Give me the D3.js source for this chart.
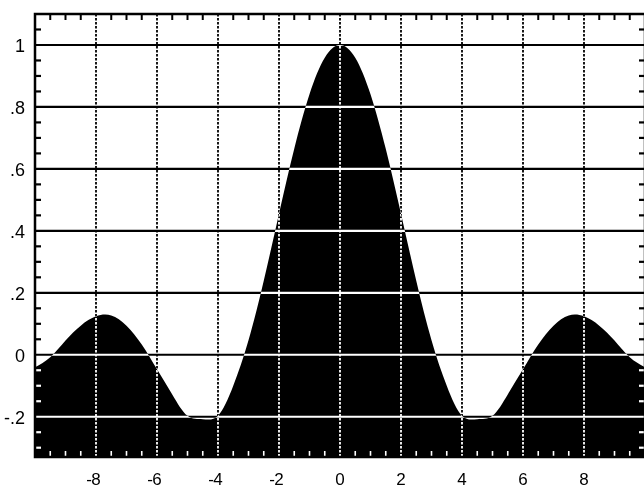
<!DOCTYPE html>
<html><head><meta charset="utf-8">
<script src="https://cdn.jsdelivr.net/npm/d3@7"></script>
<style>html,body{margin:0;padding:0;background:#fff;overflow:hidden}</style>
</head><body><svg id="c" width="644" height="490"></svg>
<script>
const xValues = [-10,-9.5,-9,-8.5,-8,-7.5,-7,-6.5,-6,-5.5,-5,-4.5,-4,-3.5,-3,-2.5,-2,-1.5,-1,-0.5,0,0.5,1,1.5,2,2.5,3,3.5,4,4.5,5,5.5,6,6.5,7,7.5,8,8.5,9,9.5,10];
const yValues = [-0.04,-0.008,0.046,0.094,0.124,0.127,0.094,0.033,-0.047,-0.128,-0.197,-0.208,-0.197,-0.100,0.047,0.239,0.455,0.665,0.841,0.959,1.0,0.959,0.841,0.665,0.455,0.239,0.047,-0.100,-0.197,-0.208,-0.197,-0.128,-0.047,0.033,0.094,0.127,0.124,0.094,0.046,-0.008,-0.04];
const xTickLabels = [-8,-6,-4,-2,0,2,4,6,8];
const yTickLabels = [-0.2,0,0.2,0.4,0.6,0.8,1];

const svg = d3.select("#c");
const x = d3.scaleLinear().domain([-10,10]).range([35,645]);
const y = d3.scaleLinear().domain([-0.33,1.1]).range([457,14]);
const data = xValues.map((v,i)=>({x:v,y:yValues[i]}));

const area = d3.area().x(d=>x(d.x)).y0(y(-0.33)).y1(d=>y(d.y)).curve(d3.curveNatural);
svg.append("path").datum(data).attr("d",area).attr("fill","#000");

// grid with XOR-like effect
const g = svg.append("g").style("mix-blend-mode","difference");
g.selectAll("line.h").data(yTickLabels).join("line")
  .attr("x1",35).attr("x2",645).attr("y1",d=>y(d)).attr("y2",d=>y(d))
  .attr("stroke","#fff").attr("stroke-width",2.2);
g.selectAll("line.v").data(xTickLabels).join("line")
  .attr("x1",d=>x(d)).attr("x2",d=>x(d)).attr("y1",14).attr("y2",457)
  .attr("stroke","#fff").attr("stroke-width",1.8).attr("stroke-dasharray","2.5,1.5");

// minor ticks
const xMinor = d3.range(-9.5,10,0.5).filter(v=>Math.abs(v%2)>1e-6);
const yMinor = d3.range(-0.3,1.1,0.05).map(v=>+v.toFixed(2)).filter(v=>Math.abs(Math.round(v*5)-v*5)>1e-6);
g.selectAll("line.tt").data(xMinor).join("line")
  .attr("x1",d=>x(d)).attr("x2",d=>x(d)).attr("y1",14).attr("y2",20)
  .attr("stroke","#fff").attr("stroke-width",2);
g.selectAll("line.tb").data(xMinor).join("line")
  .attr("x1",d=>x(d)).attr("x2",d=>x(d)).attr("y1",451).attr("y2",457)
  .attr("stroke","#fff").attr("stroke-width",1.6);
g.selectAll("line.tl").data(yMinor).join("line")
  .attr("x1",35).attr("x2",41).attr("y1",d=>y(d)).attr("y2",d=>y(d))
  .attr("stroke","#fff").attr("stroke-width",2.2);
g.selectAll("line.tr").data(yMinor).join("line")
  .attr("x1",639).attr("x2",645).attr("y1",d=>y(d)).attr("y2",d=>y(d))
  .attr("stroke","#fff").attr("stroke-width",2.2);

// frame
svg.append("rect").attr("x",35).attr("y",14).attr("width",610).attr("height",443)
  .attr("fill","none").attr("stroke","#000").attr("stroke-width",2.5);

// labels
const font = "Liberation Sans, Arial, sans-serif";
const fmtY = v => v===0 ? "0" : (v===1 ? "1" : (v<0?"-":"")+"."+Math.round(Math.abs(v)*10));
svg.selectAll("text.yl").data(yTickLabels).join("text")
  .attr("x",25).attr("y",d=>y(d)+7).attr("text-anchor","end")
  .attr("font-family",font).attr("font-size",18).attr("fill","#000")
  .text(fmtY);
svg.selectAll("text.xl").data(xTickLabels).join("text")
  .attr("x",d=>x(d)).attr("y",485).attr("text-anchor","middle")
  .attr("font-family",font).attr("font-size",17).attr("fill","#000")
  .text(d=>Math.abs(d));
svg.selectAll("text.xm").data(xTickLabels.filter(d=>d<0)).join("text")
  .attr("x",d=>x(d)-4).attr("y",485).attr("text-anchor","end")
  .attr("font-family",font).attr("font-size",17).attr("fill","#000")
  .text("-");
</script></body></html>
